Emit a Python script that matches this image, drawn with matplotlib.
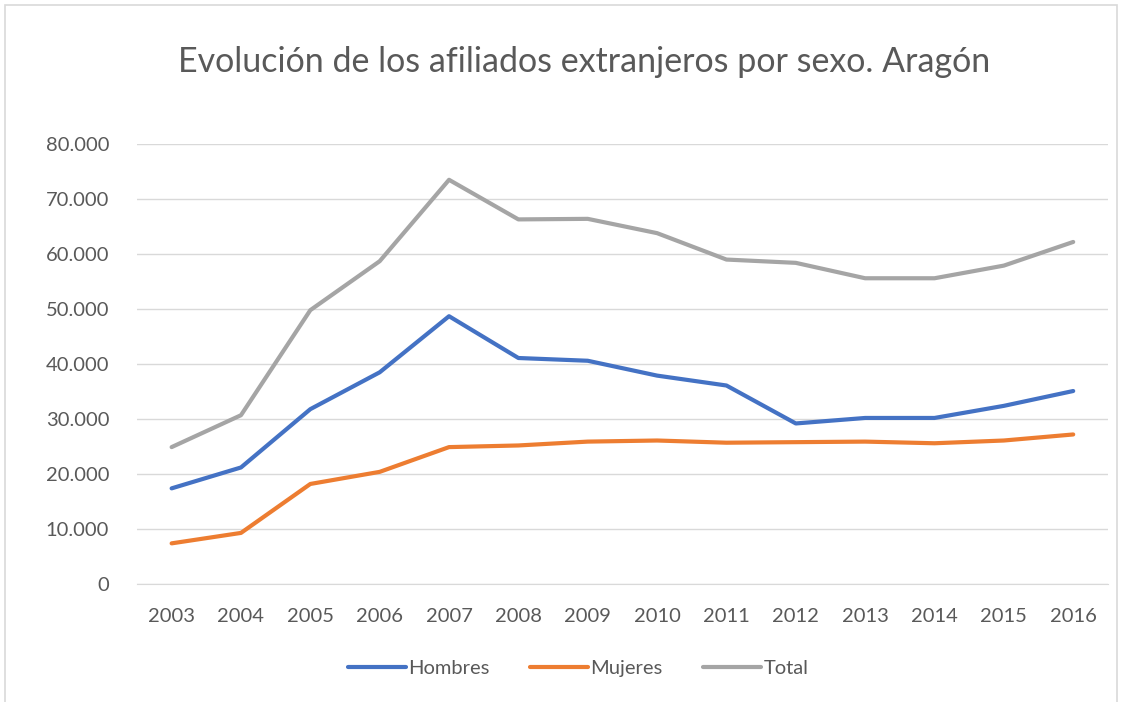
import matplotlib.pyplot as plt
from matplotlib.ticker import FuncFormatter
from matplotlib.patches import Rectangle

years = ['2003', '2004', '2005', '2006', '2007', '2008', '2009',
         '2010', '2011', '2012', '2013', '2014', '2015', '2016']
hombres = [17400, 21200, 31800, 38500, 48700, 41100, 40600,
           37900, 36100, 29200, 30200, 30200, 32400, 35100]
mujeres = [7400, 9300, 18200, 20400, 24900, 25200, 25900,
           26100, 25700, 25800, 25900, 25600, 26100, 27200]
total = [24900, 30700, 49800, 58700, 73500, 66300, 66400,
         63800, 59000, 58400, 55600, 55600, 57900, 62200]

plt.rcParams['font.family'] = ['Lato', 'DejaVu Sans']
txt = '#595959'

fig = plt.figure(figsize=(11.29, 7.02), dpi=100)
fig.patches.append(Rectangle((0.004, -0.01), 0.985, 1.003, transform=fig.transFigure,
                             fill=False, edgecolor='#d9d9d9', linewidth=1.2))
ax = fig.add_axes([0.1213, 0.168, 0.860, 0.6268])

x = range(len(years))
ax.plot(x, hombres, color='#4472C4', lw=3, label='Hombres', solid_capstyle='round')
ax.plot(x, mujeres, color='#ED7D31', lw=3, label='Mujeres', solid_capstyle='round')
ax.plot(x, total, color='#A5A5A5', lw=3, label='Total', solid_capstyle='round')

ax.set_xlim(-0.5, len(years) - 0.5)
ax.set_ylim(0, 80000)
ax.set_yticks(range(0, 80001, 10000))
ax.yaxis.set_major_formatter(FuncFormatter(lambda v, p: f'{int(v):,}'.replace(',', '.')))
ax.set_xticks(list(x))
ax.set_xticklabels(years)
ax.grid(axis='y', color='#d9d9d9', lw=1)
ax.set_axisbelow(True)
for s in ['top', 'right', 'left']:
    ax.spines[s].set_visible(False)
ax.spines['bottom'].set_color('#d9d9d9')
ax.tick_params(length=0, labelsize=14.5, colors=txt)
ax.tick_params(axis='x', pad=17)
ax.tick_params(axis='y', pad=20)

fig.text(0.517, 0.912, 'Evolución de los afiliados extranjeros por sexo. Aragón',
         ha='center', va='center', fontsize=24.5, color=txt)

fig.legend(loc='center', bbox_to_anchor=(0.512, 0.048), ncol=3, frameon=False,
           fontsize=14.5, labelcolor=txt, handlelength=2.9, handletextpad=0.1,
           columnspacing=2.0)

fig.savefig('out.png', dpi=100)
